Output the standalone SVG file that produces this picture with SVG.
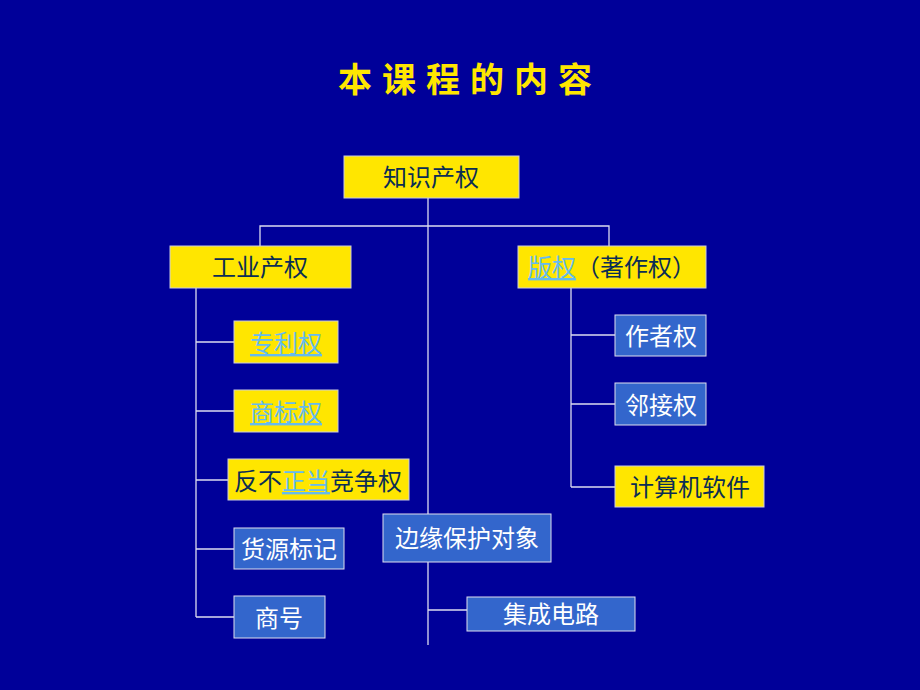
<svg xmlns="http://www.w3.org/2000/svg" width="920" height="690" viewBox="0 0 920 690">
<style>
text{font-family:"Liberation Sans","Noto Sans CJK SC",sans-serif;font-size:24px;text-anchor:middle}
.y{fill:#FFE600;stroke:#ccccdd;stroke-width:1}
.b{fill:#3366CC;stroke:#ddddee;stroke-width:1}
.dt{fill:#0a2d55}
.wt{fill:#ffffff}
.lk{fill:#66BBEE;text-decoration:underline}
.c{stroke:#dcdcf0;stroke-width:1.3;fill:none}
</style>
<rect width="920" height="690" fill="#000099"/>
<text x="470" y="92" style="font-family:'Noto Sans CJK SC',serif;font-size:34px;font-weight:bold;letter-spacing:10px" fill="#FFE600">本课程的内容</text>
<g id="connectors">
<path class="c" d="M428 198V645M260 246V226H609V246M428 610H467"/>
<path class="c" d="M196 288V617M196 342H234M196 411H234M196 480H228M196 549H234M196 617H234"/>
<path class="c" d="M571 288V487" stroke-width="2.2"/>
<path class="c" d="M571 335H615M571 404H615M571 487H615"/>
</g>
<g id="n1"><rect class="y" x="344" y="156" width="175" height="42"/><text class="dt" x="431" y="186">知识产权</text></g>
<g id="n2"><rect class="y" x="170" y="246" width="181" height="42"/><text class="dt" x="260" y="276">工业产权</text></g>
<g id="n3"><rect class="y" x="518" y="246" width="188" height="42"/><text x="612" y="276"><tspan class="lk">版权</tspan><tspan class="dt">（著作权）</tspan></text></g>
<g id="n4"><rect class="y" x="234" y="321" width="104" height="42"/><text class="lk" x="286" y="352">专利权</text></g>
<g id="n5"><rect class="y" x="234" y="390" width="104" height="42"/><text class="lk" x="286" y="421">商标权</text></g>
<g id="n6"><rect class="y" x="228" y="459" width="181" height="41"/><text x="318" y="490"><tspan class="dt">反不</tspan><tspan class="lk">正当</tspan><tspan class="dt">竞争权</tspan></text></g>
<g id="n7"><rect class="b" x="234" y="528" width="110" height="41"/><text class="wt" x="289" y="558">货源标记</text></g>
<g id="n8"><rect class="b" x="234" y="596" width="91" height="42"/><text class="wt" x="279" y="627">商号</text></g>
<g id="n9"><rect class="b" x="615" y="315" width="91" height="41"/><text class="wt" x="661" y="345">作者权</text></g>
<g id="n10"><rect class="b" x="615" y="383" width="91" height="42"/><text class="wt" x="661" y="414">邻接权</text></g>
<g id="n11"><rect class="y" x="615" y="466" width="149" height="41"/><text class="dt" x="690" y="496">计算机软件</text></g>
<g id="n12"><rect class="b" x="383" y="514" width="168" height="48"/><text class="wt" x="467" y="547">边缘保护对象</text></g>
<g id="n13"><rect class="b" x="467" y="597" width="168" height="34"/><text class="wt" x="551" y="623">集成电路</text></g>
</svg>
